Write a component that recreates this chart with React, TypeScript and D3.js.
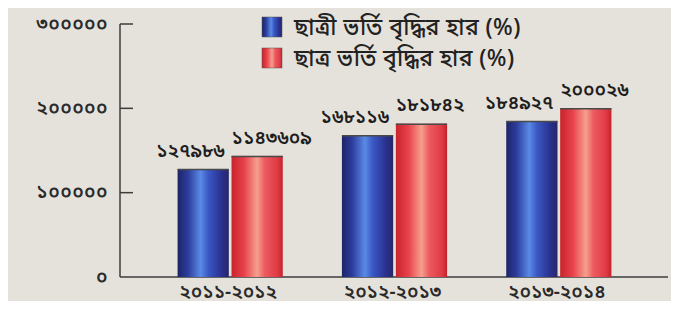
import React, { useEffect, useRef } from "react";
import * as d3 from "d3";

const categories = ["২০১১-২০১২", "২০১২-২০১৩", "২০১৩-২০১৪"];
const seriesNames = ["ছাত্রী ভর্তি বৃদ্ধির হার (%)", "ছাত্র ভর্তি বৃদ্ধির হার (%)"];
const femaleValues = [127986, 168116, 184927];
const maleValues = [143609, 181842, 200026];
const valueLabels = [
  ["১২৭৯৮৬", "১৬৮১১৬", "১৮৪৯২৭"],
  ["১১৪৩৬০৯", "১৮১৮৪২", "২০০০২৬"],
];
const yTicks = [0, 100000, 200000, 300000];
const yTickLabels = ["০", "১০০০০০", "২০০০০০", "৩০০০০০"];

const W = 679;
const H = 309;
const FONT = "'Noto Sans Bengali', 'Noto Sans', sans-serif";

const App = () => {
  const ref = useRef<SVGSVGElement | null>(null);

  useEffect(() => {
    const svg = d3.select(ref.current);
    svg.selectAll("*").remove();

    const defs = svg.append("defs");
    const blue = defs.append("linearGradient").attr("id", "gBlue");
    [
      [0, "#1d2466"],
      [0.2, "#2c3c9c"],
      [0.45, "#5a8ae6"],
      [0.6, "#3a58c4"],
      [0.85, "#2a3290"],
      [1, "#272668"],
    ].forEach(([o, c]) => blue.append("stop").attr("offset", o).attr("stop-color", c));
    const red = defs.append("linearGradient").attr("id", "gRed");
    [
      [0, "#c9232c"],
      [0.25, "#e8434c"],
      [0.5, "#f5a08e"],
      [0.65, "#ec5a60"],
      [0.9, "#e03a44"],
      [1, "#c3222c"],
    ].forEach(([o, c]) => red.append("stop").attr("offset", o).attr("stop-color", c));

    // background + frame
    svg.append("rect").attr("width", W).attr("height", H).attr("fill", "#f4f3ef");
    svg.append("rect").attr("x", 6).attr("y", 4).attr("width", W - 6).attr("height", 298)
      .attr("fill", "#e5e2db");
    svg.append("line").attr("x1", 5).attr("x2", W).attr("y1", 3.5).attr("y2", 3.5)
      .attr("stroke", "#7a7a7a").attr("stroke-width", 1.2);
    svg.append("line").attr("x1", 5).attr("x2", W).attr("y1", 302).attr("y2", 302)
      .attr("stroke", "#444").attr("stroke-width", 2);
    svg.append("line").attr("x1", 6).attr("x2", 6).attr("y1", 3).attr("y2", 303)
      .attr("stroke", "#555").attr("stroke-width", 1.5);

    const y = d3.scaleLinear().domain([0, 300000]).range([277, 24]);
    const x = d3.scaleBand().domain(categories).range([148, 641])
      .paddingInner(0.36).paddingOuter(0.18);
    const xs = d3.scaleBand().domain(["f", "m"]).range([0, x.bandwidth()]).paddingInner(0.05);

    // axes
    const axisColor = "#3c3c3c";
    svg.append("line").attr("x1", 120).attr("x2", 120).attr("y1", y(300000)).attr("y2", y(0))
      .attr("stroke", axisColor).attr("stroke-width", 1.5);
    svg.append("line").attr("x1", 120).attr("x2", 668).attr("y1", y(0)).attr("y2", y(0))
      .attr("stroke", axisColor).attr("stroke-width", 1.5);
    yTicks.forEach((t, i) => {
      if (t > 0) {
        svg.append("line").attr("x1", 120).attr("x2", 133).attr("y1", y(t)).attr("y2", y(t))
          .attr("stroke", axisColor).attr("stroke-width", 1.5);
      }
      svg.append("text").attr("x", 108).attr("y", y(t)).attr("dy", "0.3em")
        .attr("text-anchor", "end").attr("font-family", FONT).attr("font-size", 19)
        .attr("font-weight", 600).attr("letter-spacing", 0.5).attr("fill", "#2a2a2a")
        .text(yTickLabels[i]);
    });

    categories.forEach((c) => {
      svg.append("text").attr("x", (x(c) ?? 0) + x.bandwidth() / 2 - 2).attr("y", 292).attr("dy", "0.3em")
        .attr("text-anchor", "middle").attr("font-family", FONT).attr("font-size", 19)
        .attr("font-weight", 600).attr("fill", "#2a2a2a").text(c);
    });

    const series = [
      { key: "f", values: femaleValues, fill: "url(#gBlue)", labels: valueLabels[0], anchor: "end" },
      { key: "m", values: maleValues, fill: "url(#gRed)", labels: valueLabels[1], anchor: "start" },
    ];

    series.forEach((s) => {
      const g = svg.append("g");
      const left = (d: string) => (x(d) ?? 0) + (xs(s.key) ?? 0);
      g.selectAll("rect.bar")
        .data(categories)
        .join("rect")
        .attr("class", "bar")
        .attr("x", (d) => left(d))
        .attr("y", (d, i) => y(s.values[i]))
        .attr("width", xs.bandwidth())
        .attr("height", (d, i) => y(0) - y(s.values[i]))
        .attr("fill", s.fill);
      g.selectAll("line.cap")
        .data(categories)
        .join("line")
        .attr("class", "cap")
        .attr("x1", (d) => left(d))
        .attr("x2", (d) => left(d) + xs.bandwidth())
        .attr("y1", (d, i) => y(s.values[i]) + 0.5)
        .attr("y2", (d, i) => y(s.values[i]) + 0.5)
        .attr("stroke", "#4a4a4a")
        .attr("stroke-width", 1.5);
      g.selectAll("text")
        .data(categories)
        .join("text")
        .attr("x", (d) => (s.anchor === "end" ? left(d) + xs.bandwidth() - 4 : left(d)))
        .attr("y", (d, i) => y(s.values[i]) - 18)
        .attr("dy", "0.3em")
        .attr("text-anchor", s.anchor)
        .attr("font-family", FONT)
        .attr("font-size", 19)
        .attr("font-weight", 600)
        .attr("fill", "#1e1e1e")
        .text((d, i) => s.labels[i]);
    });

    // legend
    const legendFills = ["url(#gBlue)", "url(#gRed)"];
    seriesNames.forEach((name, i) => {
      const ly = 17 + i * 31;
      svg.append("rect").attr("x", 262).attr("y", ly).attr("width", 20).attr("height", 20)
        .attr("fill", legendFills[i]).attr("stroke", "#555").attr("stroke-width", 0.5);
      svg.append("text").attr("x", 294).attr("y", ly + 10).attr("dy", "0.35em")
        .attr("font-family", FONT).attr("font-size", 23).attr("font-weight", 500)
        .attr("letter-spacing", 0.4).attr("fill", "#222").text(name);
    });
  }, []);

  return <svg ref={ref} width={W} height={H} style={{ display: "block", margin: "-8px" }} />;
};

export default App;
